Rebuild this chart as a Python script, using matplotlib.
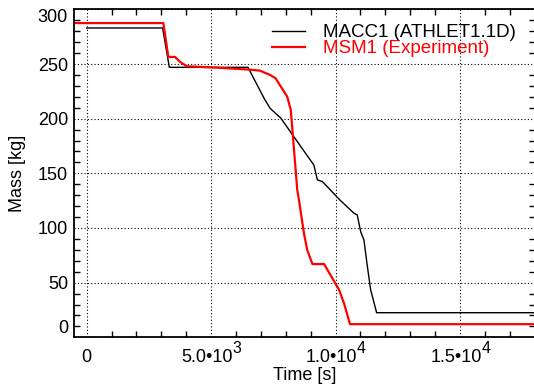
import matplotlib
matplotlib.use('Agg')
import matplotlib.pyplot as plt
import matplotlib.transforms as mtransforms

plt.rcParams['font.family'] = ['Liberation Sans', 'DejaVu Sans']

# MACC1 (ATHLET1.1D) calculation
t_calc = [0, 3050, 3320, 6480, 7120, 7370, 7800, 9130, 9270, 9470, 10180,
          10740, 10870, 11010, 11140, 11280, 11410, 11650, 18000]
m_calc = [283, 283, 247, 247, 219, 209.5, 200.5, 157.5, 144, 142.5, 125.5,
          113.5, 112, 96.5, 89, 64.5, 43.5, 22.5, 22.5]

# MSM1 experiment
t_exp = [-500, 3080, 3280, 3550, 3750, 4020, 5360, 6480, 6960, 7370, 7590,
         8060, 8200, 8460, 8530, 8730, 8860, 9070, 9540, 9870, 10140, 10340,
         10580, 18000]
m_exp = [287.5, 287.5, 256.5, 256.5, 252, 248, 246.5, 245, 244, 240, 237,
         220, 208, 135, 125.5, 95, 80, 67, 67, 54, 43.5, 31, 12, 12]

x_grid = [0, 5000, 10000, 15000]
x_base = ['0', '5.0•10', '1.0•10', '1.5•10']
x_exp = ['', '3', '4', '4']
y_grid = [0, 50, 100, 150, 200, 250, 300]
y_labels = ['0', '50', '100', '150', '200', '250', '300']

fig = plt.figure(figsize=(5.34, 3.88), dpi=100)
ax = fig.add_axes([74.26 / 534, 50.7 / 388, 460.4 / 534, 327.9 / 388])

ax.plot(t_calc, m_calc, color='black', lw=1.0, label='MACC1 (ATHLET1.1D)')
ax.plot(t_exp, m_exp, color='red', lw=1.6, label='MSM1 (Experiment)')

ax.set_xlim(-500, 18000)
ax.set_ylim(0, 300)

# grid on major positions, tick marks on the minor ones
ax.set_xticks(x_grid)
ax.set_yticks(y_grid)
ax.set_xticklabels([])
ax.set_yticklabels([])
ax.set_xticks([t for t in range(1000, 18000, 1000) if t % 5000], minor=True)
ax.set_yticks([m for m in range(10, 300, 10) if m % 50], minor=True)
ax.tick_params(which='major', length=0)
ax.tick_params(which='minor', direction='in', length=4.5, width=1.0,
               top=True, right=True, color='black')
ax.grid(True, which='major', color='black', linestyle=(0, (1, 2)), lw=0.8)
for sp in ax.spines.values():
    sp.set_linewidth(1.3)

# x tick labels: mantissa + raised exponent, baseline aligned
px = 0.72  # points per pixel at dpi 100
xaxis_tr = ax.get_xaxis_transform()
for x, b, e in zip(x_grid, x_base, x_exp):
    if not e:
        tr = mtransforms.offset_copy(xaxis_tr, fig=fig, y=-24.4 * px, units='points')
        ax.text(x, 0, b, transform=tr, ha='center', va='baseline',
                fontsize=13, clip_on=False)
        continue
    tr_b = mtransforms.offset_copy(xaxis_tr, fig=fig, x=21.5 * px,
                                   y=-24.4 * px, units='points')
    ax.text(x, 0, b, transform=tr_b, ha='right', va='baseline',
            fontsize=13, clip_on=False)
    tr_e = mtransforms.offset_copy(xaxis_tr, fig=fig, x=21.5 * px,
                                   y=-15.5 * px, units='points')
    ax.text(x, 0, e, transform=tr_e, ha='left', va='baseline',
            fontsize=11.5, clip_on=False)

ylab_tr = mtransforms.offset_copy(ax.get_yaxis_transform(), fig=fig,
                                  x=-6.3 * px, units='points')
for i, (y, s) in enumerate(zip(y_grid, y_labels)):
    va = 'center_baseline'
    if i == 0:
        va = 'bottom'
    elif i == len(y_grid) - 1:
        va = 'top'
    ax.text(0, y, s, transform=ylab_tr, ha='right', va=va, fontsize=13,
            clip_on=False)

ax.set_xlabel('Time [s]', fontsize=13)
ax.set_ylabel('Mass [kg]', fontsize=13)
ax.xaxis.set_label_coords(0.5, -0.09)
ax.yaxis.set_label_coords(-0.105, 0.5)

leg = ax.legend(loc='upper left', bbox_to_anchor=(0.4295, 0.9555),
                frameon=False, fontsize=13.5, borderaxespad=0, borderpad=0,
                handlelength=1.78, handletextpad=0.94, labelspacing=-0.05)
for txt, line in zip(leg.get_texts(), leg.get_lines()):
    txt.set_color(line.get_color())

fig.savefig('out.png', dpi=100)
